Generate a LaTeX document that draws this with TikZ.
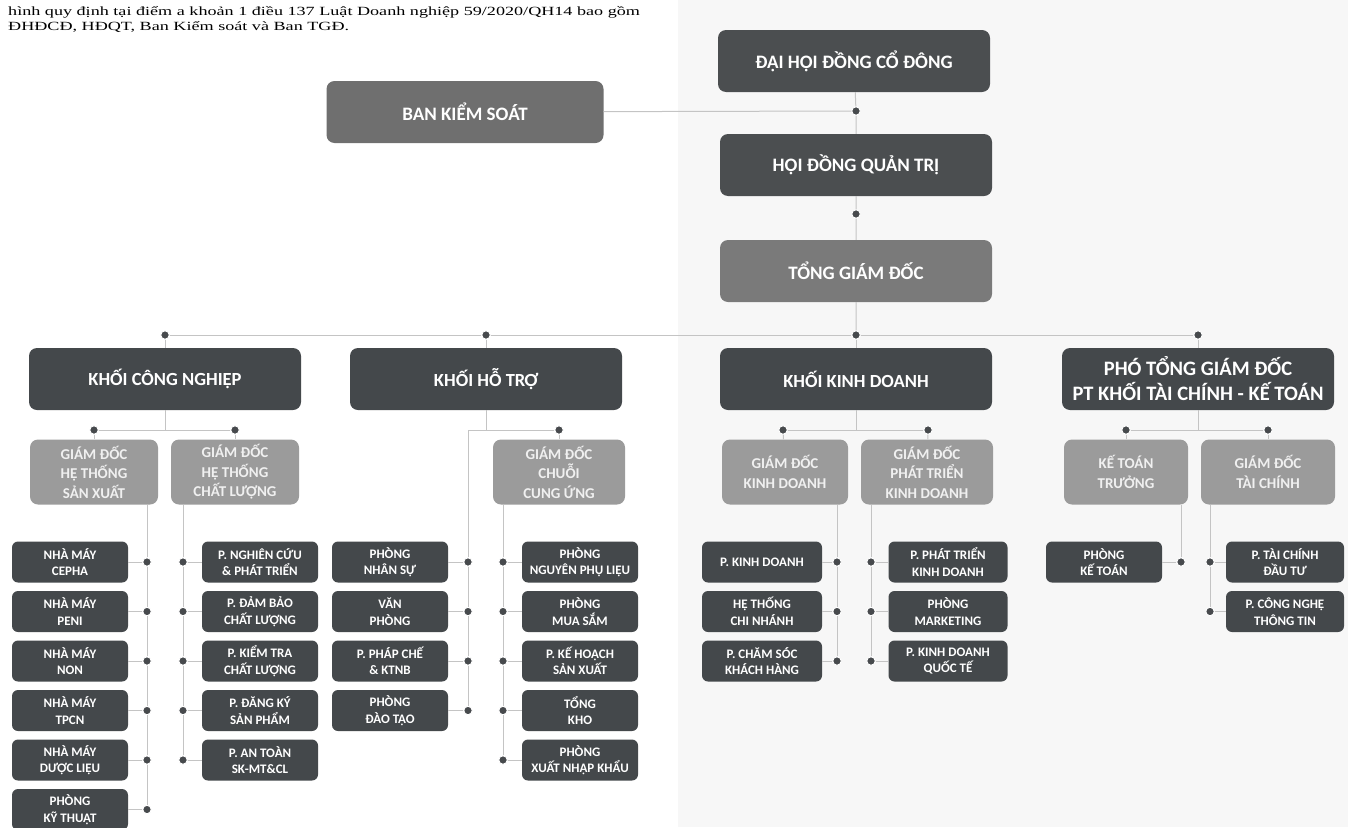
\documentclass[tikz,border=0pt]{standalone}
\usepackage{graphicx}
\usepackage{fontspec}
\setmainfont{Liberation Serif}
\newfontfamily\boxfont{Carlito}
\definecolor{boxdark}{HTML}{44484B}
\definecolor{boxtop}{HTML}{4B4E50}
\definecolor{boxmid}{HTML}{6F6F6F}
\definecolor{boxtgd}{HTML}{7A7A7A}
\definecolor{boxsub}{HTML}{9B9B9B}
\definecolor{linkc}{HTML}{C4C4C4}
\definecolor{dotc}{HTML}{474A4D}
\definecolor{paper}{HTML}{F7F7F7}
\begin{document}
\begin{tikzpicture}[x=1pt,y=-1pt,
  box/.style={rounded corners=8pt,fill=boxdark,text=white,align=center,inner sep=0pt,
    minimum width=272pt,minimum height=62pt,font=\boxfont\bfseries\fontsize{18.5}{24}\selectfont},
  topbox/.style={box,fill=boxtop,font=\boxfont\bfseries\fontsize{19}{24}\selectfont},
  subbox/.style={box,fill=boxsub,text=black!6,minimum width=128pt,minimum height=65pt,
    font=\boxfont\bfseries\fontsize{15}{19.5}\selectfont},
  unit/.style={box,rounded corners=6pt,minimum width=116pt,minimum height=41pt,
    font=\boxfont\bfseries\fontsize{13}{16.5}\selectfont},
  ndot/.style={circle,fill=dotc,draw=white,line width=1pt,inner sep=0pt,minimum size=8.5pt},
  link/.style={draw=linkc,line width=1pt}]
\useasboundingbox (0,0) rectangle (1348,827);
\fill[paper] (678,0) rectangle (1348,827);
\node[anchor=north west,align=left,inner sep=0pt,font=\fontsize{12.5}{15}\selectfont] (intro) at (8,6)
  {\scalebox{1.45}[1]{hình quy định tại điểm a khoản 1 điều 137 Luật Doanh nghiệp 59/2020/QH14 bao gồm}\\
   \scalebox{1.45}[1]{ĐHĐCĐ, HĐQT, Ban Kiểm soát và Ban TGĐ.}};

\node[topbox] (dhdcd) at (854,61) {ĐẠI HỘI ĐỒNG CỔ ĐÔNG};
\node[topbox,fill=boxmid,minimum width=277pt] (bks) at (465,112) {BAN KIỂM SOÁT};
\node[topbox] (hdqt) at (856,165) {HỘI ĐỒNG QUẢN TRỊ};
\node[topbox,fill=boxtgd] (tgd) at (856,271) {TỔNG GIÁM ĐỐC};
\node[ndot] (d1) at (856,111) {};
\node[ndot] (d2) at (856,214) {};

\node[ndot] (a1) at (165,335) {};
\node[ndot] (a2) at (486,335) {};
\node[ndot] (a3) at (856,335) {};
\node[ndot] (a4) at (1198,335) {};

\node[box] (kcn) at (165,379) {KHỐI CÔNG NGHIỆP};
\node[box] (kht) at (486,379) {KHỐI HỖ TRỢ};
\node[box] (kkd) at (856,379) {KHỐI KINH DOANH};
\node[box,font=\boxfont\bfseries\fontsize{20.5}{25}\selectfont] (ktc) at (1198,379) {PHÓ TỔNG GIÁM ĐỐC\\PT KHỐI TÀI CHÍNH - KẾ TOÁN};

\node[ndot] (b1) at (94,430) {};
\node[ndot] (b2) at (235,430) {};
\node[ndot] (b3) at (559,430) {};
\node[ndot] (b4) at (783,430) {};
\node[ndot] (b5) at (928,430) {};
\node[ndot] (b6) at (1126,430) {};
\node[ndot] (b7) at (1268,430) {};
\coordinate (t2) at (468,430);

\node[subbox] (htsx) at (94,472) {GIÁM ĐỐC\\HỆ THỐNG\\SẢN XUẤT};
\node[subbox] (htcl) at (235,472) {GIÁM ĐỐC\\HỆ THỐNG\\CHẤT LƯỢNG};
\node[subbox,minimum width=132pt] (gdcu) at (559,472) {GIÁM ĐỐC\\CHUỖI\\CUNG ỨNG};
\node[subbox,minimum width=126pt] (gdkd) at (785,472) {GIÁM ĐỐC\\KINH DOANH};
\node[subbox,minimum width=132pt] (gdpt) at (927,472) {GIÁM ĐỐC\\PHÁT TRIỂN\\KINH DOANH};
\node[subbox,minimum width=124pt] (ktt) at (1126,472) {KẾ TOÁN\\TRƯỞNG};
\node[subbox,minimum width=134pt] (gdtc) at (1268,472) {GIÁM ĐỐC\\TÀI CHÍNH};

\node[unit] (cn1) at (70,562) {NHÀ MÁY\\CEPHA};
\node[unit] (cn2) at (70,611.5) {NHÀ MÁY\\PENI};
\node[unit] (cn3) at (70,661) {NHÀ MÁY\\NON};
\node[unit] (cn4) at (70,710.5) {NHÀ MÁY\\TPCN};
\node[unit] (cn5) at (70,760) {NHÀ MÁY\\DƯỢC LIỆU};
\node[unit] (cn6) at (70,809.5) {PHÒNG\\KỸ THUẬT};
\node[ndot] (cnd1) at (147,562) {};
\node[ndot] (cnd2) at (147,611.5) {};
\node[ndot] (cnd3) at (147,661) {};
\node[ndot] (cnd4) at (147,710.5) {};
\node[ndot] (cnd5) at (147,760) {};
\node[ndot] (cnd6) at (147,809.5) {};

\node[unit] (cl1) at (260,562) {P. NGHIÊN CỨU\\\& PHÁT TRIỂN};
\node[unit] (cl2) at (260,611.5) {P. ĐẢM BẢO\\CHẤT LƯỢNG};
\node[unit] (cl3) at (260,661) {P. KIỂM TRA\\CHẤT LƯỢNG};
\node[unit] (cl4) at (260,710.5) {P. ĐĂNG KÝ\\SẢN PHẨM};
\node[unit] (cl5) at (260,760) {P. AN TOÀN\\SK-MT\&CL};
\node[ndot] (cld1) at (183,562) {};
\node[ndot] (cld2) at (183,611.5) {};
\node[ndot] (cld3) at (183,661) {};
\node[ndot] (cld4) at (183,710.5) {};
\node[ndot] (cld5) at (183,760) {};

\node[unit] (ht1) at (390,562) {PHÒNG\\NHÂN SỰ};
\node[unit] (ht2) at (390,611.5) {VĂN\\PHÒNG};
\node[unit] (ht3) at (390,661) {P. PHÁP CHẾ\\\& KTNB};
\node[unit] (ht4) at (390,710.5) {PHÒNG\\ĐÀO TẠO};
\node[ndot] (htd1) at (468,562) {};
\node[ndot] (htd2) at (468,611.5) {};
\node[ndot] (htd3) at (468,661) {};
\node[ndot] (htd4) at (468,710.5) {};

\node[unit] (cu1) at (580,562) {PHÒNG\\NGUYÊN PHỤ LIỆU};
\node[unit] (cu2) at (580,611.5) {PHÒNG\\MUA SẮM};
\node[unit] (cu3) at (580,661) {P. KẾ HOẠCH\\SẢN XUẤT};
\node[unit] (cu4) at (580,710.5) {TỔNG\\KHO};
\node[unit] (cu5) at (580,760) {PHÒNG\\XUẤT NHẬP KHẨU};
\node[ndot] (cud1) at (503,562) {};
\node[ndot] (cud2) at (503,611.5) {};
\node[ndot] (cud3) at (503,661) {};
\node[ndot] (cud4) at (503,710.5) {};
\node[ndot] (cud5) at (503,760) {};

\node[unit,minimum width=120pt] (kd1) at (762,562) {P. KINH DOANH};
\node[unit,minimum width=120pt] (kd2) at (762,611.5) {HỆ THỐNG\\CHI NHÁNH};
\node[unit,minimum width=120pt] (kd3) at (762,661) {P. CHĂM SÓC\\KHÁCH HÀNG};
\node[ndot] (kdd1) at (837,562) {};
\node[ndot] (kdd2) at (837,611.5) {};
\node[ndot] (kdd3) at (837,661) {};

\node[unit,minimum width=119pt] (pk1) at (948,562) {P. PHÁT TRIỂN\\KINH DOANH};
\node[unit,minimum width=119pt] (pk2) at (948,611.5) {PHÒNG\\MARKETING};
\node[unit,minimum width=119pt] (pk3) at (948,661) {P. KINH DOANH\\QUỐC TẾ};
\node[ndot] (pkd1) at (871,562) {};
\node[ndot] (pkd2) at (871,611.5) {};
\node[ndot] (pkd3) at (871,661) {};

\node[unit] (kt1) at (1104,562) {PHÒNG\\KẾ TOÁN};
\node[ndot] (ktd1) at (1181,562) {};
\node[unit,minimum width=118pt] (tc1) at (1285,562) {P. TÀI CHÍNH\\ĐẦU TƯ};
\node[unit,minimum width=118pt] (tc2) at (1285,611.5) {P. CÔNG NGHỆ\\THÔNG TIN};
\node[ndot] (tcd1) at (1210,562) {};
\node[ndot] (tcd2) at (1210,611.5) {};

\draw[link] (bks) -- (d1);
\draw[link] (dhdcd) -- (d1) -- (hdqt) -- (d2) -- (tgd) -- (a3);
\draw[link] (a1) -- (a2) -- (a3) -- (a4);
\draw[link] (a1) -- (kcn);
\draw[link] (a2) -- (kht);
\draw[link] (a3) -- (kkd);
\draw[link] (a4) -- (ktc);

\draw[link] (kcn) -- (kcn |- b1);
\draw[link] (b1) -- (b2);
\draw[link] (b1) -- (htsx);
\draw[link] (b2) -- (htcl);
\draw[link] (kht) -- (kht |- t2);
\draw[link] (t2) -- (b3);
\draw[link] (b3) -- (gdcu);
\draw[link] (kkd) -- (kkd |- b4);
\draw[link] (b4) -- (b5);
\draw[link] (b4) -- (gdkd);
\draw[link] (b5) -- (gdpt);
\draw[link] (ktc) -- (ktc |- b6);
\draw[link] (b6) -- (b7);
\draw[link] (b6) -- (ktt);
\draw[link] (b7) -- (gdtc);

\draw[link] (cnd1 |- htsx.south) -- (cnd1) -- (cnd2) -- (cnd3) -- (cnd4) -- (cnd5) -- (cnd6);
\draw[link] (cld1 |- htcl.south) -- (cld1) -- (cld2) -- (cld3) -- (cld4) -- (cld5);
\draw[link] (t2) -- (htd1) -- (htd2) -- (htd3) -- (htd4);
\draw[link] (cud1 |- gdcu.south) -- (cud1) -- (cud2) -- (cud3) -- (cud4) -- (cud5);
\draw[link] (kdd1 |- gdkd.south) -- (kdd1) -- (kdd2) -- (kdd3);
\draw[link] (pkd1 |- gdpt.south) -- (pkd1) -- (pkd2) -- (pkd3);
\draw[link] (ktd1 |- ktt.south) -- (ktd1);
\draw[link] (tcd1 |- gdtc.south) -- (tcd1) -- (tcd2);

\draw[link] (cn1) -- (cnd1);
\draw[link] (cn2) -- (cnd2);
\draw[link] (cn3) -- (cnd3);
\draw[link] (cn4) -- (cnd4);
\draw[link] (cn5) -- (cnd5);
\draw[link] (cn6) -- (cnd6);
\draw[link] (cld1) -- (cl1);
\draw[link] (cld2) -- (cl2);
\draw[link] (cld3) -- (cl3);
\draw[link] (cld4) -- (cl4);
\draw[link] (cld5) -- (cl5);
\draw[link] (ht1) -- (htd1);
\draw[link] (ht2) -- (htd2);
\draw[link] (ht3) -- (htd3);
\draw[link] (ht4) -- (htd4);
\draw[link] (cud1) -- (cu1);
\draw[link] (cud2) -- (cu2);
\draw[link] (cud3) -- (cu3);
\draw[link] (cud4) -- (cu4);
\draw[link] (cud5) -- (cu5);
\draw[link] (kd1) -- (kdd1);
\draw[link] (kd2) -- (kdd2);
\draw[link] (kd3) -- (kdd3);
\draw[link] (pkd1) -- (pk1);
\draw[link] (pkd2) -- (pk2);
\draw[link] (pkd3) -- (pk3);
\draw[link] (kt1) -- (ktd1);
\draw[link] (tcd1) -- (tc1);
\draw[link] (tcd2) -- (tc2);
\end{tikzpicture}
\end{document}
